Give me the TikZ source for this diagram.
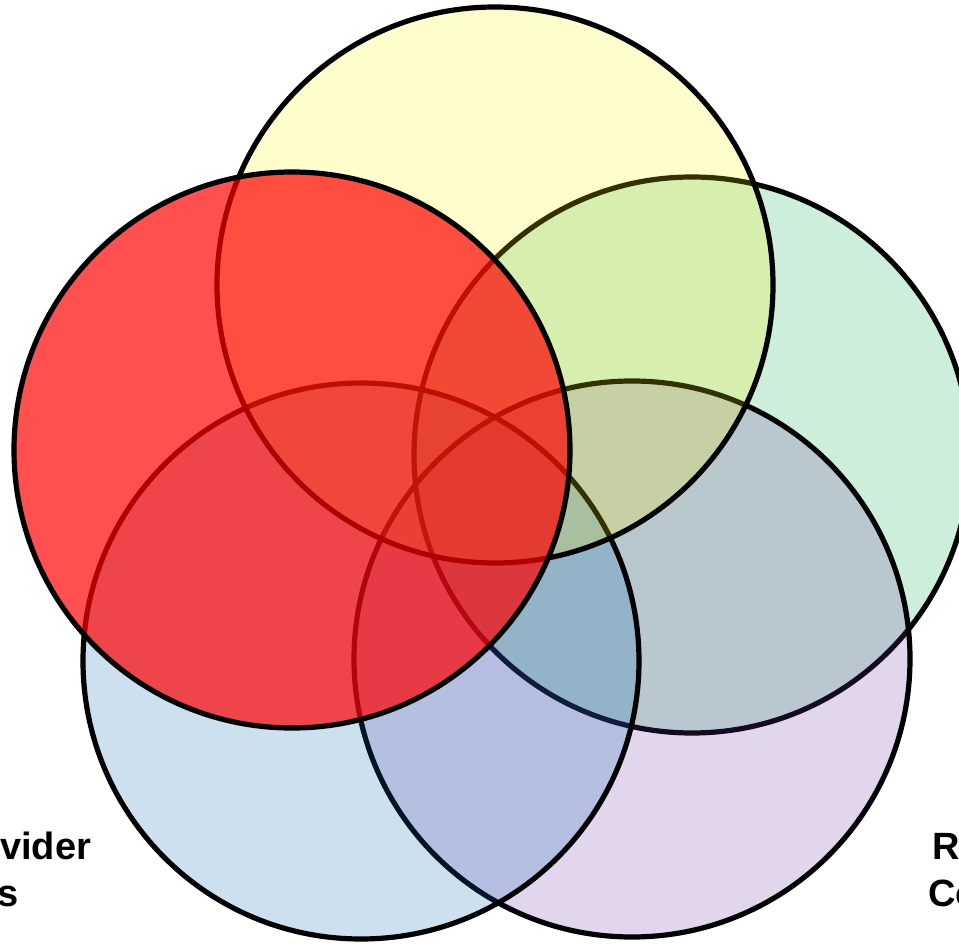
\documentclass[tikz,border=0pt]{standalone}
\usepackage{fontspec}
\setmainfont{Liberation Sans}
\definecolor{cyel}{RGB}{255,245,0}
\definecolor{cgrn}{RGB}{0,170,70}
\definecolor{cpur}{RGB}{105,50,160}
\definecolor{cblu}{RGB}{0,100,180}
\definecolor{cred}{RGB}{255,0,0}
\begin{document}
\begin{tikzpicture}[x=1pt,y=-1pt,
  venn/.style={circle, draw=black, line width=5.2pt, minimum size=556pt, inner sep=0pt, outer sep=0pt},
  lbl/.style={inner sep=0pt, anchor=base west, font=\fontsize{38}{47}\selectfont\bfseries}]
\useasboundingbox (0,0) rectangle (959,944);
\clip (0,0) rectangle (959,944);
\node[venn, fill=cgrn, fill opacity=0.2] (green) at (692,455) {};
\node[venn, fill=cpur, fill opacity=0.2] (purple) at (632,659) {};
\node[venn, fill=cblu, fill opacity=0.2] (blue) at (361,661) {};
\node[venn, fill=cyel, fill opacity=0.2] (yellow) at (495,285) {};
\node[venn, fill=cred, fill opacity=0.69] (red) at (292,450) {};
\node[lbl] (l1) at (0,859) {vider};
\node[lbl] (l2) at (-3,906) {s};
\node[lbl] (r1) at (932,859) {R};
\node[lbl] (r2) at (928,906) {Co};
\end{tikzpicture}
\end{document}
